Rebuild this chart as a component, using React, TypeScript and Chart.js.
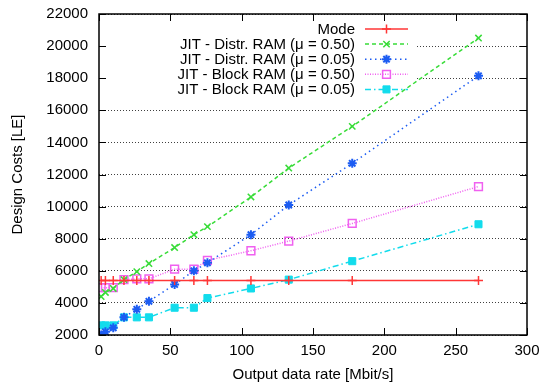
import React, { useEffect, useRef } from 'react';
import { Chart, registerables } from 'chart.js';
import { drawPoint } from 'chart.js/helpers';

Chart.register(...registerables);

// Output data rate [Mbit/s]
const rates = [1.5, 4.5, 10, 17.5, 26.5, 35, 53, 66.5, 76, 106.5, 133, 177.5, 266];
const modeCost = [5400, 5400, 5400, 5400, 5400, 5400, 5400, 5400, 5400, 5400, 5400, 5400, 5400];
const distrRam050 = [4400, 4650, 4900, 5450, 5950, 6450, 7450, 8250, 8750, 10600, 12400, 15000, 20500];
const distrRam005 = [2000, 2200, 2450, 3100, 3600, 4100, 5150, 6000, 6500, 8250, 10100, 12700, 18150];
const blockRam050 = [4950, 4950, 4950, 5450, 5500, 5500, 6100, 6100, 6650, 7250, 7850, 8950, 11250];
const blockRam005 = [2600, 2600, 2600, 3100, 3100, 3100, 3700, 3700, 4300, 4900, 5450, 6600, 8900];

const seriesLabels = [
  'Mode',
  'JIT - Distr. RAM (\u03bc = 0.50)',
  'JIT - Distr. RAM (\u03bc = 0.05)',
  'JIT - Block RAM (\u03bc = 0.50)',
  'JIT - Block RAM (\u03bc = 0.05)',
];
const xTicks = [0, 50, 100, 150, 200, 250, 300];
const yTicks = [2000, 4000, 6000, 8000, 10000, 12000, 14000, 16000, 18000, 20000, 22000];
const xTitle = 'Output data rate [Mbit/s]';
const yTitle = 'Design Costs [LE]';

const FONT = "'Liberation Sans', Arial, Helvetica, sans-serif";

const styles = [
  { color: '#ff3636', dash: [] as number[], point: 'cross', radius: 4.5, bw: 1.5, fill: '#ff3636' },
  { color: '#38dc38', dash: [4, 3], point: 'crossRot', radius: 4.5, bw: 1.5, fill: '#38dc38' },
  { color: '#1c5cf2', dash: [1.5, 3.5], point: 'star', radius: 4.5, bw: 2, fill: '#1c5cf2' },
  { color: '#f060f0', dash: [1, 1.5], point: 'rect', radius: 5.5, bw: 1.5, fill: 'rgba(0,0,0,0)' },
  { color: '#12dcec', dash: [6, 3, 1.5, 3], point: 'rect', radius: 5, bw: 1, fill: '#12dcec' },
];

const seriesValues = [modeCost, distrRam050, distrRam005, blockRam050, blockRam005];

const legendBoxPlugin = {
  id: 'legendBox',
  beforeDatasetsDraw(chart: any) {
    const { ctx, chartArea } = chart;
    ctx.save();
    ctx.fillStyle = '#fff';
    ctx.fillRect(chartArea.left + 1, chartArea.top + 1, 416 - chartArea.left, 96 - chartArea.top);
    ctx.restore();
  },
  afterDatasetsDraw(chart: any) {
    const { ctx } = chart;
    ctx.save();
    ctx.font = `15px ${FONT}`;
    ctx.textAlign = 'right';
    ctx.textBaseline = 'middle';
    chart.data.datasets.forEach((ds: any, i: number) => {
      const y = 29 + i * 15.1;
      ctx.fillStyle = '#000';
      ctx.fillText(ds.label, 355, y + 0.5);
      ctx.strokeStyle = ds.borderColor;
      ctx.lineWidth = ds.borderWidth;
      ctx.setLineDash(ds.borderDash || []);
      ctx.beginPath();
      ctx.moveTo(365, y);
      ctx.lineTo(408, y);
      ctx.stroke();
      ctx.setLineDash([]);
      ctx.fillStyle = ds.pointBackgroundColor;
      ctx.strokeStyle = ds.pointBorderColor;
      ctx.lineWidth = ds.pointBorderWidth;
      drawPoint(ctx, { pointStyle: ds.pointStyle, rotation: 0, radius: ds.pointRadius, borderWidth: ds.pointBorderWidth }, 386.5, y);
    });
    ctx.restore();
  },
};

const framePlugin = {
  id: 'frameTicks',
  afterDraw(chart: any) {
    const { ctx, chartArea } = chart;
    const { left, right, top, bottom } = chartArea;
    const x = chart.scales.x;
    const y = chart.scales.y;
    const L = 7;
    ctx.save();
    ctx.strokeStyle = '#000';
    ctx.lineWidth = 1;
    ctx.beginPath();
    xTicks.forEach((v) => {
      const px = Math.round(x.getPixelForValue(v)) + 0.5;
      ctx.moveTo(px, bottom);
      ctx.lineTo(px, bottom - L);
      ctx.moveTo(px, top);
      ctx.lineTo(px, top + L);
    });
    yTicks.forEach((v) => {
      const py = Math.round(y.getPixelForValue(v)) + 0.5;
      ctx.moveTo(left, py);
      ctx.lineTo(left + L, py);
      ctx.moveTo(right, py);
      ctx.lineTo(right - L, py);
    });
    ctx.stroke();
    ctx.lineWidth = 1.5;
    ctx.strokeRect(left, top, right - left, bottom - top);
    ctx.restore();
  },
};

export default function App() {
  const canvasRef = useRef<HTMLCanvasElement | null>(null);

  useEffect(() => {
    const canvas = canvasRef.current;
    if (!canvas) return;
    Chart.defaults.color = '#000';
    Chart.defaults.font.family = FONT;
    Chart.defaults.font.size = 15;

    const datasets = seriesValues.map((vals, i) => {
      const s = styles[i];
      return {
        label: seriesLabels[i],
        data: rates.map((r, j) => ({ x: r, y: vals[j] })),
        borderColor: s.color,
        borderWidth: 1.5,
        borderDash: s.dash,
        pointStyle: s.point,
        pointRadius: s.radius,
        pointBorderWidth: s.bw,
        pointBorderColor: s.color,
        pointBackgroundColor: s.fill,
        fill: false,
        tension: 0,
      };
    });

    const chart = new Chart(canvas, {
      type: 'line',
      data: { datasets },
      options: {
        animation: false,
        responsive: false,
        maintainAspectRatio: false,
        layout: { padding: { top: 14, right: 16, left: 0, bottom: 0 } },
        plugins: {
          legend: { display: false },
          tooltip: { enabled: false },
        },
        scales: {
          x: {
            type: 'linear',
            min: 0,
            max: 300,
            afterFit: (scale: any) => {
              scale.height = 50;
              scale.paddingLeft = 0;
              scale.paddingRight = 0;
            },
            afterBuildTicks: (scale: any) => { scale.ticks = xTicks.map((v) => ({ value: v })); },
            grid: { display: false, drawTicks: false },
            border: { display: false },
            ticks: { padding: 7, maxRotation: 0, font: { size: 15 }, color: '#000', callback: (v: any) => String(v) },
            title: { display: true, text: xTitle, font: { size: 15 }, color: '#000', padding: { top: 0, bottom: 1 } },
          },
          y: {
            type: 'linear',
            min: 2000,
            max: 22000,
            afterFit: (scale: any) => {
              scale.width = 99;
              scale.paddingTop = 0;
              scale.paddingBottom = 0;
            },
            afterBuildTicks: (scale: any) => { scale.ticks = yTicks.map((v) => ({ value: v })); },
            grid: { display: true, drawTicks: false, color: 'rgba(0,0,0,0.75)', lineWidth: 1 },
            border: { display: false, dash: [1, 2] },
            ticks: { padding: 11, font: { size: 15 }, color: '#000', callback: (v: any) => String(v) },
            title: { display: true, text: yTitle, font: { size: 15 }, color: '#000', padding: { top: 9, bottom: 0 } },
          },
        },
      },
      plugins: [legendBoxPlugin, framePlugin],
    } as any);

    return () => chart.destroy();
  }, []);

  return (
    <div style={{ position: 'fixed', left: 0, top: 0, width: 543, height: 385, background: '#fff' }}>
      <canvas ref={canvasRef} width={543} height={385} style={{ display: 'block', width: 543, height: 385 }} />
    </div>
  );
}
